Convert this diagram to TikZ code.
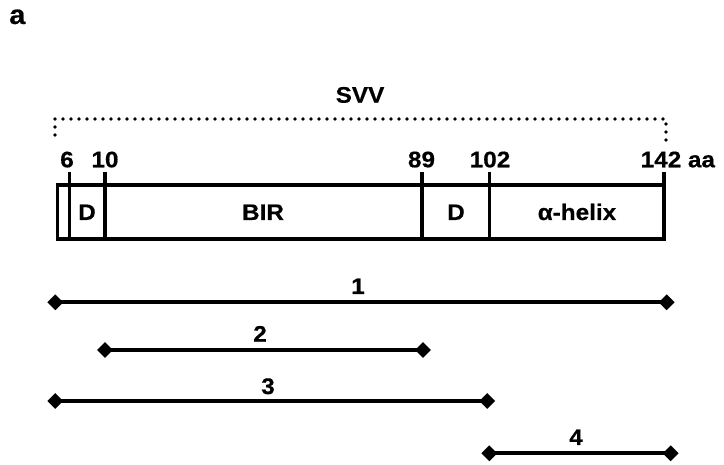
\documentclass[tikz,border=0pt]{standalone}
\usepackage{fontspec}
\setmainfont{Liberation Sans}[FakeStretch=1.08, BoldFeatures={FakeBold=0.6}]
\usetikzlibrary{shapes.geometric}
\tikzset{
  lbl/.style={font=\fontsize{22.5}{25}\selectfont\bfseries, inner sep=0pt, anchor=base},
  bar/.style={line width=3.6pt},
  rng/.style={line width=4pt},
  dia/.style={diamond, fill=black, draw=none, inner sep=0pt, minimum width=16pt, minimum height=16pt},
  dots/.style={line width=3.6pt, line cap=round, dash pattern=on 0pt off 8pt}
}
\begin{document}
\begin{tikzpicture}[x=1pt, y=-1pt]
\useasboundingbox (0,0) rectangle (724,465);
% panel letter
\node[lbl, font=\fontsize{27}{29}\selectfont\bfseries, anchor=base west] (pa) at (9,24) {a};
% SVV span
\node[lbl] (svv) at (360,102.7) {SVV};
\coordinate (dl1) at (55,135);
\coordinate (dl0) at (55,119);
\coordinate (dr0) at (666,119);
\coordinate (dr1) at (666,142);
\draw[dots] (dl1) -- (dl0) -- (dr0) -- (dr1);
% domain box
\draw[bar] (57.5,185) rectangle (663.7,239);
\foreach \x/\n in {69.3/t6,105/t10,421.7/t89,489.3/t102,663.7/t142}{
  \coordinate (\n a) at (\x,172.5);
  \coordinate (\n b) at (\x,239);
  \draw[bar] (\n a) -- (\n b);
}
% tick labels
\node[lbl] (l6) at (67,167.3) {6};
\node[lbl] (l10) at (105,167.3) {10};
\node[lbl] (l89) at (421.5,167.3) {89};
\node[lbl] (l102) at (490,167.3) {102};
\node[lbl, anchor=base west] (l142) at (640.5,167.3) {142 aa};
% domain labels
\node[lbl] (dD1) at (87,220) {D};
\node[lbl] (dBIR) at (263,220) {BIR};
\node[lbl] (dD2) at (456,220) {D};
\node[lbl] (dA) at (577,220) {α-helix};
% ranges
\node[dia] (r1a) at (55.3,302.3) {};
\node[dia] (r1b) at (666.7,302.3) {};
\draw[rng] (r1a.center) -- (r1b.center);
\node[lbl] (n1) at (358,294) {1};
\node[dia] (r2a) at (105,350) {};
\node[dia] (r2b) at (423,350) {};
\draw[rng] (r2a.center) -- (r2b.center);
\node[lbl] (n2) at (260,341.7) {2};
\node[dia] (r3a) at (55.3,401) {};
\node[dia] (r3b) at (487.3,401) {};
\draw[rng] (r3a.center) -- (r3b.center);
\node[lbl] (n3) at (268,394) {3};
\node[dia] (r4a) at (489.3,453.3) {};
\node[dia] (r4b) at (670.7,453.3) {};
\draw[rng] (r4a.center) -- (r4b.center);
\node[lbl] (n4) at (576,445) {4};
\end{tikzpicture}
\end{document}
